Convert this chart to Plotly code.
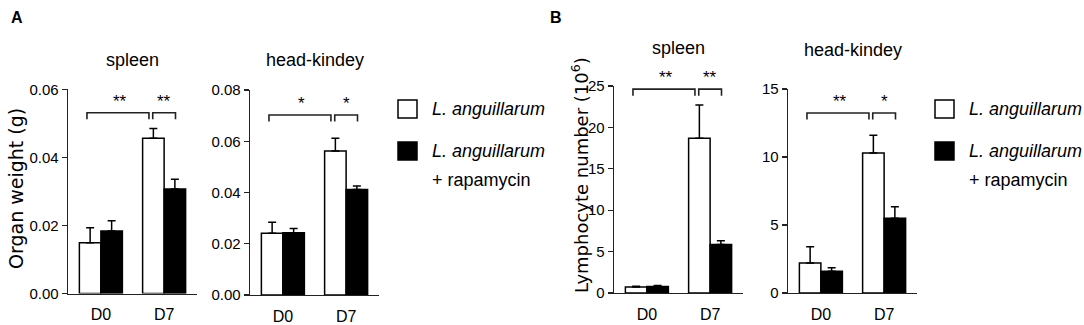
import plotly.graph_objects as go

W, H = 1084, 325

# ---------------- data ----------------
days = ["D0", "D7"]
panel_titles = ["spleen", "head-kindey", "spleen", "head-kindey"]

# Organ weight (g)
a_spleen_la = [0.0149, 0.0456]
a_spleen_la_err = [0.0044, 0.0029]
a_spleen_rapa = [0.0184, 0.0307]
a_spleen_rapa_err = [0.0030, 0.0029]

a_hk_la = [0.0241, 0.0562]
a_hk_la_err = [0.0043, 0.0050]
a_hk_rapa = [0.0243, 0.0412]
a_hk_rapa_err = [0.0017, 0.0013]

# Lymphocyte number (10^6)
b_spleen_la = [0.73, 18.7]
b_spleen_la_err = [0.10, 4.0]
b_spleen_rapa = [0.80, 5.85]
b_spleen_rapa_err = [0.10, 0.45]

b_hk_la = [2.2, 10.3]
b_hk_la_err = [1.2, 1.3]
b_hk_rapa = [1.6, 5.5]
b_hk_rapa_err = [0.25, 0.85]

la_values = [a_spleen_la, a_hk_la, b_spleen_la, b_hk_la]
la_errors = [a_spleen_la_err, a_hk_la_err, b_spleen_la_err, b_hk_la_err]
rapa_values = [a_spleen_rapa, a_hk_rapa, b_spleen_rapa, b_hk_rapa]
rapa_errors = [a_spleen_rapa_err, a_hk_rapa_err, b_spleen_rapa_err, b_hk_rapa_err]

y_max = [0.06, 0.08, 25, 15]
y_dtick = [0.02, 0.02, 5, 5]
y_format = [".2f", ".2f", "d", "d"]

# significance labels: [D0 vs D7 (L.a.), D7 L.a. vs D7 + rapamycin]
sig_labels = [["**", "**"], ["*", "*"], ["**", "**"], ["**", "*"]]
bracket_level = [0.885, 0.878, 0.985, 0.882]

legend_names = ["<i>L. anguillarum</i>", "<i>L. anguillarum</i>", "+ rapamycin"]

# ---------------- layout geometry (pixels) ----------------
x_dom_px = [(68, 197), (250, 379), (614, 743), (788, 917)]
y_dom_px = [(89.3, 293.5), (90, 295), (86, 293), (89, 293)]
title_y_px = [60, 60, 48, 50]

FONT = "Liberation Sans, Arial, sans-serif"
LINE = "#222222"


def px(x):
    return x / W


def py(y):
    return 1 - y / H


fig = go.Figure()
layout = dict(
    width=W, height=H, margin=dict(l=0, r=0, t=0, b=0, pad=0, autoexpand=False),
    paper_bgcolor="white", plot_bgcolor="white",
    barmode="group", bargap=0.32, bargroupgap=0.0,
    showlegend=False, font=dict(family=FONT, size=15, color="black"),
)
shapes = []
annotations = []

for i in range(4):
    n = "" if i == 0 else str(i + 1)
    xa, ya = "x" + n, "y" + n
    fig.add_trace(go.Bar(
        x=days, y=la_values[i], xaxis=xa, yaxis=ya, name="L. anguillarum",
        marker=dict(color="white", line=dict(color="black", width=1.5)),
        error_y=dict(type="data", array=la_errors[i], arrayminus=[0, 0],
                     symmetric=False, color="black", thickness=1.5, width=4),
        cliponaxis=False,
    ))
    fig.add_trace(go.Bar(
        x=days, y=rapa_values[i], xaxis=xa, yaxis=ya, name="L. anguillarum + rapamycin",
        marker=dict(color="black", line=dict(color="black", width=1.5)),
        error_y=dict(type="data", array=rapa_errors[i], arrayminus=[0, 0],
                     symmetric=False, color="black", thickness=1.5, width=4),
        cliponaxis=False,
    ))
    x0, x1 = x_dom_px[i]
    y0, y1 = y_dom_px[i]
    layout["xaxis" + n] = dict(
        domain=[px(x0), px(x1)], anchor=ya, range=[-0.52, 1.52],
        showline=True, linecolor=LINE, linewidth=1.3, showgrid=False,
        ticks="outside", ticklen=6, tickcolor="rgba(0,0,0,0)",
        tickfont=dict(size=16), fixedrange=True, automargin=False,
    )
    layout["yaxis" + n] = dict(
        domain=[py(y1), py(y0)], anchor=xa, range=[0, y_max[i]],
        dtick=y_dtick[i], tickformat=y_format[i],
        showline=True, linecolor=LINE, linewidth=1.3, showgrid=False,
        zeroline=False, ticks="outside", ticklen=5, tickwidth=1.3,
        tickcolor=LINE, tickfont=dict(size=15), fixedrange=True, automargin=False,
    )
    # panel title
    annotations.append(dict(
        text=panel_titles[i], xref=xa + " domain", x=0.5, yref="paper",
        y=py(title_y_px[i]), xanchor="center", yanchor="middle",
        showarrow=False, font=dict(size=18),
    ))
    # significance brackets
    lv = bracket_level[i]
    drop = 0.032
    yd = ya + " domain"
    for (bx0, bx1) in [(-0.22, 0.76), (0.82, 1.18)]:
        shapes.append(dict(
            type="path", xref=xa, yref=yd,
            path=f"M {bx0},{lv - drop} L {bx0},{lv} L {bx1},{lv} L {bx1},{lv - drop}",
            line=dict(color=LINE, width=1.6),
        ))
    for sx, lab in zip([0.3, 1.0], sig_labels[i]):
        annotations.append(dict(
            text=lab, xref=xa, x=sx, yref=yd, y=lv + 0.055,
            xanchor="center", yanchor="middle", showarrow=False,
            font=dict(size=17),
        ))

# y-axis titles
annotations.append(dict(
    text="Organ weight (g)", xref="paper", yref="paper", x=px(16), y=py(189),
    xanchor="center", yanchor="middle", textangle=-90, showarrow=False,
    font=dict(size=19, family="DejaVu Sans"),
))
annotations.append(dict(
    text="Lymphocyte number (10<sup>6</sup>)", xref="paper", yref="paper",
    x=px(580), y=py(175), xanchor="center", yanchor="middle", textangle=-90,
    showarrow=False, font=dict(size=18, family="DejaVu Sans"),
))
# panel letters
for lab, lx in [("A", 17), ("B", 556)]:
    annotations.append(dict(
        text=lab, xref="paper", yref="paper", x=px(lx), y=py(18),
        xanchor="center", yanchor="middle", showarrow=False,
        font=dict(size=16, weight="bold"),
    ))

# legends (drawn manually)
for sq_x, tx in [(398, 430), (935, 967)]:
    shapes.append(dict(type="rect", xref="paper", yref="paper",
                       x0=px(sq_x), x1=px(sq_x + 19), y0=py(118), y1=py(100),
                       line=dict(color="black", width=1.5), fillcolor="white"))
    shapes.append(dict(type="rect", xref="paper", yref="paper",
                       x0=px(sq_x), x1=px(sq_x + 19), y0=py(160), y1=py(142),
                       line=dict(color="black", width=1.5), fillcolor="black"))
    for txt, ty in zip(legend_names, [109, 151, 180]):
        annotations.append(dict(
            text=txt, xref="paper", yref="paper", x=px(tx), y=py(ty),
            xanchor="left", yanchor="middle", showarrow=False, font=dict(size=18),
        ))

layout["shapes"] = shapes
layout["annotations"] = annotations
fig.update_layout(**layout)
fig.write_html(
    "out.html",
    config={"displayModeBar": False, "staticPlot": True},
    post_script=(
        "document.documentElement.style.margin='0px';"
        "document.body.style.margin='0px';"
        "document.body.style.overflow='hidden';"
    ),
)
